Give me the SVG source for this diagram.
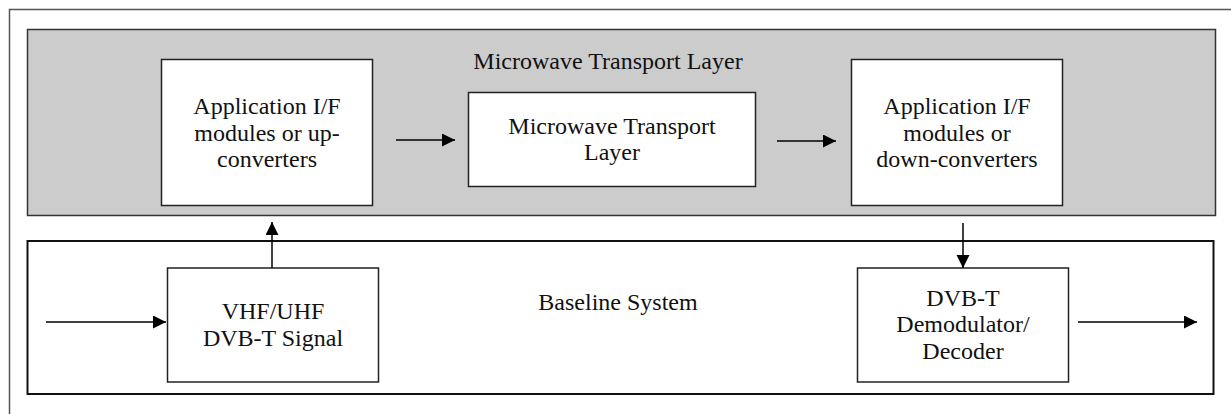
<svg xmlns="http://www.w3.org/2000/svg" width="1231" height="414" viewBox="0 0 1231 414">
<style>
text{font-family:"Liberation Serif","Times New Roman",serif;font-size:24px;fill:#111;text-anchor:middle}
.box{fill:#fff;stroke:#222;stroke-width:1.5}
.conn{stroke:#000;stroke-width:1.5;fill:none}
</style>
<defs>
<marker id="ah" markerWidth="14" markerHeight="14" refX="13" refY="6.5" orient="auto" markerUnits="userSpaceOnUse">
<path d="M0,0 L13,6.5 L0,13 Z" fill="#000"/>
</marker>
</defs>
<rect x="9.5" y="9.5" width="1240" height="430" fill="#fff" stroke="#555" stroke-width="1.5"/>
<g id="microwave-layer">
<rect x="27.5" y="29.5" width="1188" height="186" fill="#cccccc" stroke="#333" stroke-width="1.5"/>
<text x="608" y="69">Microwave Transport Layer</text>
</g>
<g id="baseline-system">
<rect x="27.5" y="241" width="1186" height="153" fill="#fff" stroke="#111" stroke-width="2"/>
<text x="618" y="310">Baseline System</text>
</g>
<g id="app-up">
<rect class="box" x="161.5" y="59.5" width="211" height="146"/>
<text x="267" y="114">Application I/F</text>
<text x="267" y="141">modules or up-</text>
<text x="267" y="167">converters</text>
</g>
<g id="mw-transport">
<rect class="box" x="468.5" y="92.5" width="287" height="94"/>
<text x="612" y="134">Microwave Transport</text>
<text x="612" y="160">Layer</text>
</g>
<g id="app-down">
<rect class="box" x="851.5" y="59.5" width="211" height="146"/>
<text x="957" y="114">Application I/F</text>
<text x="957" y="141">modules or</text>
<text x="957" y="167">down-converters</text>
</g>
<g id="vhf-uhf">
<rect class="box" x="167.5" y="268" width="211" height="114"/>
<text x="273" y="319">VHF/UHF</text>
<text x="273" y="346">DVB-T Signal</text>
</g>
<g id="dvbt-demod">
<rect class="box" x="857.5" y="268" width="211" height="114"/>
<text x="963" y="306">DVB-T</text>
<text x="963" y="332">Demodulator/</text>
<text x="963" y="359">Decoder</text>
</g>
<g id="connectors">
<line class="conn" x1="46" y1="322" x2="166" y2="322" marker-end="url(#ah)"/>
<line class="conn" x1="272" y1="268" x2="272" y2="222" marker-end="url(#ah)"/>
<line class="conn" x1="396" y1="140" x2="455" y2="140" marker-end="url(#ah)"/>
<line class="conn" x1="777" y1="141" x2="836" y2="141" marker-end="url(#ah)"/>
<line class="conn" x1="963" y1="223" x2="963" y2="268" marker-end="url(#ah)"/>
<line class="conn" x1="1078" y1="322" x2="1197" y2="322" marker-end="url(#ah)"/>
</g>
</svg>
